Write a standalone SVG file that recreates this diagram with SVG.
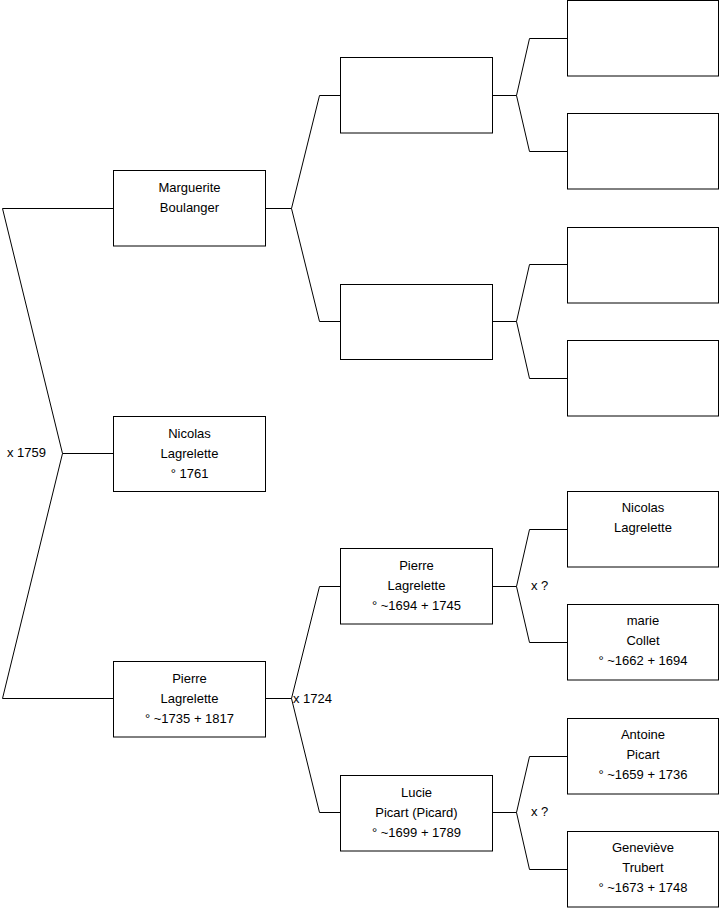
<svg xmlns="http://www.w3.org/2000/svg" width="719" height="908" viewBox="0 0 719 908">
<style>
rect.box{fill:#fff;stroke:#000;stroke-width:1}
.c polyline{fill:none;stroke:#000;stroke-width:1}
text{font-family:"Liberation Sans",Arial,sans-serif;font-size:13px;fill:#000}
.t text{text-anchor:middle}
</style>
<rect width="719" height="908" fill="#fff"/>
<g class="c" id="connectors">
<polyline points="113.5,208.5 2.5,208.5 62.5,453.5 2.5,698.5 113.5,698.5"/>
<polyline points="62.5,453.5 113.5,453.5"/>
<polyline points="265.5,208.5 291.5,208.5"/>
<polyline points="341.5,95.5 319.5,95.5 291.5,208.5 319.5,321.5 341.5,321.5"/>
<polyline points="265.5,698.5 291.5,698.5"/>
<polyline points="341.5,586.5 319.5,586.5 291.5,698.5 319.5,812.5 341.5,812.5"/>
<polyline points="492.5,95.5 516.5,95.5"/>
<polyline points="567.5,38.5 529.5,38.5 516.5,95.5 529.5,151.5 567.5,151.5"/>
<polyline points="492.5,321.5 516.5,321.5"/>
<polyline points="567.5,264.5 529.5,264.5 516.5,321.5 529.5,378.5 567.5,378.5"/>
<polyline points="492.5,586.5 516.5,586.5"/>
<polyline points="567.5,529.5 529.5,529.5 516.5,586.5 529.5,642.5 567.5,642.5"/>
<polyline points="492.5,812.5 516.5,812.5"/>
<polyline points="567.5,756.5 529.5,756.5 516.5,812.5 529.5,869.5 567.5,869.5"/>
</g>
<text x="7" y="457">x 1759</text>
<text x="293" y="703">x 1724</text>
<text x="531" y="590">x ?</text>
<text x="531" y="816">x ?</text>
<g class="t">
<g id="marguerite"><rect class="box" x="113.5" y="170.5" width="152" height="75.5"/><text x="189.5" y="192">Marguerite</text><text x="189.5" y="212">Boulanger</text></g>
<g id="nicolas1761"><rect class="box" x="113.5" y="416.5" width="152" height="75"/><text x="189.5" y="438">Nicolas</text><text x="189.5" y="458">Lagrelette</text><text x="189.5" y="478">° 1761</text></g>
<g id="pierre1735"><rect class="box" x="113.5" y="661.5" width="152" height="75.5"/><text x="189.5" y="683">Pierre</text><text x="189.5" y="703">Lagrelette</text><text x="189.5" y="723">° ~1735 + 1817</text></g>
<g id="m-father"><rect class="box" x="340.5" y="57.5" width="152" height="75.5"/></g>
<g id="m-mother"><rect class="box" x="340.5" y="284.5" width="152" height="75"/></g>
<g id="pierre1694"><rect class="box" x="340.5" y="548.5" width="152" height="75.5"/><text x="416.5" y="570">Pierre</text><text x="416.5" y="590">Lagrelette</text><text x="416.5" y="610">° ~1694 + 1745</text></g>
<g id="lucie"><rect class="box" x="340.5" y="775.5" width="152" height="75.5"/><text x="416.5" y="797">Lucie</text><text x="416.5" y="817">Picart (Picard)</text><text x="416.5" y="837">° ~1699 + 1789</text></g>
<g id="gg1"><rect class="box" x="567.5" y="0.5" width="151" height="75.5"/></g>
<g id="gg2"><rect class="box" x="567.5" y="113.5" width="151" height="75.5"/></g>
<g id="gg3"><rect class="box" x="567.5" y="227.5" width="151" height="75.5"/></g>
<g id="gg4"><rect class="box" x="567.5" y="340.5" width="151" height="75.5"/></g>
<g id="nicolasL"><rect class="box" x="567.5" y="491.5" width="151" height="75.5"/><text x="643" y="512">Nicolas</text><text x="643" y="532">Lagrelette</text></g>
<g id="marie"><rect class="box" x="567.5" y="604.5" width="151" height="75.5"/><text x="643" y="625">marie</text><text x="643" y="645">Collet</text><text x="643" y="665">° ~1662 + 1694</text></g>
<g id="antoine"><rect class="box" x="567.5" y="718.5" width="151" height="75.5"/><text x="643" y="739">Antoine</text><text x="643" y="759">Picart</text><text x="643" y="779">° ~1659 + 1736</text></g>
<g id="genevieve"><rect class="box" x="567.5" y="831.5" width="151" height="75.5"/><text x="643" y="852">Geneviève</text><text x="643" y="872">Trubert</text><text x="643" y="892">° ~1673 + 1748</text></g>
</g>
</svg>
